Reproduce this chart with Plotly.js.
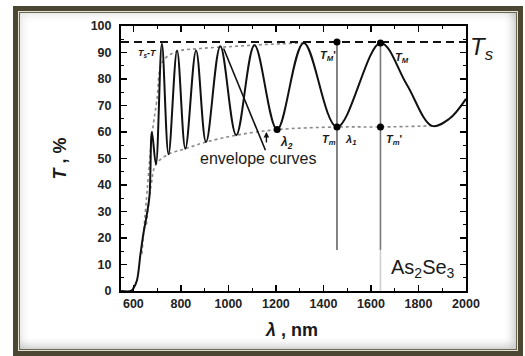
<!DOCTYPE html>
<html>
<head>
<meta charset="utf-8">
<script src="https://cdn.plot.ly/plotly-3.0.1.min.js"></script>
<style>
  html, body { margin: 0; padding: 0; background: #ffffff; }
  body { width: 525px; height: 356px; overflow: hidden; position: relative; }
  #frame {
    position: absolute; left: 13px; top: 6px; width: 510px; height: 350px;
    box-sizing: border-box; border: 5px solid #4b4733; background: #ffffff;
    box-shadow: inset 0 0 0 1px #e4e2d6, inset 0 0 0 2px #6a6650,
                inset -5px -5px 10px rgba(0,0,0,0.22), inset 4px 4px 8px rgba(0,0,0,0.10);
  }
  #chart { position: absolute; left: 0; top: 0; width: 525px; height: 356px; }
</style>
</head>
<body>
<div id="frame"></div>
<div id="chart"></div>
<script>
// Transmission spectrum of an As2Se3 film (wavelength in nm, T in %)
const wavelength   = [548, 590, 600, 615, 630, 643, 657, 668, 678, 695, 720, 748, 784, 819, 864, 906, 966, 1033, 1110, 1205, 1317, 1457, 1640, 1750, 1857, 1930, 2000];
const transmission = [0,   0,   1,   4,   14,  22,  29,  36,  60,  47.8, 93.3, 51.6, 90.8, 53.7, 90.8, 56.2, 92.4, 58.8, 92.7, 60.9, 93.6, 61.9, 93.6, 78, 62.3, 65, 72.5];

// Envelope curves through the maxima and minima
const upperEnvX = [636, 660, 680, 699, 722, 777, 882, 1022, 1150, 1317];
const upperEnvY = [14,  40,  60,  72,  86.4, 90.2, 91.5, 92.3, 93.0, 93.6];
const lowerEnvX = [655, 675, 695, 748, 819, 906, 1033, 1205, 1457, 1640, 1857];
const lowerEnvY = [25,  40,  47.8, 51.6, 53.7, 56.2, 58.8, 60.9, 61.9, 61.9, 62.3];

// Substrate transmission level
const substrateT = 94;

// Marked points: lambda2 minimum, T_M', T_m, T_M, T_m'
const markX = [1205, 1457, 1457, 1640, 1640];
const markY = [60.9, 94,   61.9, 93.6, 61.9];

// Vertical guides at lambda1 and at the T_M maximum
const guide1X = [1457, 1457];
const guide1Y = [94, 15.5];
const guide2X = [1640, 1640];
const guide2Y = [93.6, 15.5];
const guide2LowY = [15.5, 0];

// Pointer line for the envelope label
const pointerX = [980, 1156];
const pointerY = [91.5, 53.1];

const xTicks = [600, 800, 1000, 1200, 1400, 1600, 1800, 2000];
const yTicks = [0, 10, 20, 30, 40, 50, 60, 70, 80, 90, 100];

const FONT = '"Liberation Sans", Arial, sans-serif';
const INK = '#1a1a1a';

const traces = [
  { x: upperEnvX, y: upperEnvY, mode: 'lines', line: { color: '#8a8a8a', width: 1.6, dash: 'dot', shape: 'spline' }, hoverinfo: 'skip' },
  { x: lowerEnvX, y: lowerEnvY, mode: 'lines', line: { color: '#8a8a8a', width: 1.6, dash: 'dot', shape: 'spline' }, hoverinfo: 'skip' },
  { x: [548, 2000], y: [substrateT, substrateT], mode: 'lines', line: { color: '#111', width: 2, dash: '8px,5px' } },
  { x: guide1X, y: guide1Y, mode: 'lines', line: { color: '#666', width: 1.6 } },
  { x: guide2X, y: guide2Y, mode: 'lines', line: { color: '#777', width: 1.6 } },
  { x: guide2X, y: guide2LowY, mode: 'lines', line: { color: '#cfcfcf', width: 1.6 } },
  { x: pointerX, y: pointerY, mode: 'lines', line: { color: '#111', width: 1.6 } },
  { x: wavelength, y: transmission, mode: 'lines', line: { color: '#111', width: 2, shape: 'spline', smoothing: 1 } },
  { x: markX, y: markY, mode: 'markers', marker: { color: '#000', size: 7 } }
];

function lab(x, y, text, size, extra) {
  return Object.assign({ x: x, y: y, xref: 'x', yref: 'y', text: text, showarrow: false,
    xanchor: 'center', yanchor: 'middle',
    font: { family: FONT, size: size, color: INK } }, extra || {});
}

const annotations = [
  lab(659, 89.7, '<b><i>T<sub>s</sub>-T</i></b>', 9),
  lab(1421, 88.5, '<b><i>T<sub>M</sub></i>\'</b>', 11),
  lab(1732, 88, '<b><i>T<sub>M</sub></i></b>', 11),
  lab(1425, 57, '<b><i>T<sub>m</sub></i></b>', 11),
  lab(1513, 57, '<b><i>λ<sub>1</sub></i></b>', 11),
  lab(1699, 57, '<b><i>T<sub>m</sub></i>\'</b>', 11),
  lab(1244, 56, '<b><i>λ<sub>2</sub></i></b>', 12),
  lab(1128, 50, 'envelope curves', 16),
  lab(1964, 8.6, 'As<sub>2</sub>Se<sub>3</sub>', 20, { xanchor: 'right' }),
  { x: 1160, y: 60, ax: 1160, ay: 55.5, xref: 'x', yref: 'y', axref: 'x', ayref: 'y',
    showarrow: true, arrowhead: 2, arrowsize: 0.8, arrowwidth: 1.4, arrowcolor: '#111', text: '' },
  { x: 1.047, y: 0.915, xref: 'paper', yref: 'paper', showarrow: false,
    xanchor: 'center', yanchor: 'middle',
    text: '<i>T<sub>s</sub></i>', font: { family: FONT, size: 24, color: INK } },
  { x: -0.177, y: 0.5, xref: 'paper', yref: 'paper', showarrow: false, textangle: -90,
    xanchor: 'center', yanchor: 'middle',
    text: '<b><i>T</i> , %</b>', font: { family: FONT, size: 18, color: INK } },
  { x: 0.493, y: -0.148, xref: 'paper', yref: 'paper', showarrow: false,
    xanchor: 'center', yanchor: 'middle',
    text: '<b><i>λ</i> , nm</b>', font: { family: FONT, size: 18, color: INK } }
];

const axisCommon = {
  showgrid: false, zeroline: false, showline: true, linecolor: '#000', linewidth: 2,
  mirror: 'allticks', ticks: 'inside', ticklen: 6, tickwidth: 1.5, tickcolor: '#000',
  tickfont: { family: FONT, size: 12.5, color: '#222', weight: 'bold' }
};

const layout = {
  width: 525, height: 356,
  margin: { l: 121, r: 59, t: 26, b: 65 },
  paper_bgcolor: 'rgba(0,0,0,0)', plot_bgcolor: 'rgba(0,0,0,0)',
  showlegend: false,
  xaxis: Object.assign({}, axisCommon, {
    range: [548, 2000], tickvals: xTicks, ticktext: xTicks.map(String),
    minor: { dtick: 100, tick0: 500, ticks: 'inside', ticklen: 3, tickwidth: 1.2, tickcolor: '#000' }
  }),
  yaxis: Object.assign({}, axisCommon, {
    range: [0, 100], tickvals: yTicks, ticktext: yTicks.map(String), ticklabelstandoff: 5,
    minor: { dtick: 5, tick0: 0, ticks: 'inside', ticklen: 3, tickwidth: 1.2, tickcolor: '#000' }
  }),
  annotations: annotations
};

Plotly.newPlot('chart', traces, layout, { staticPlot: true, displayModeBar: false });
</script>
</body>
</html>
